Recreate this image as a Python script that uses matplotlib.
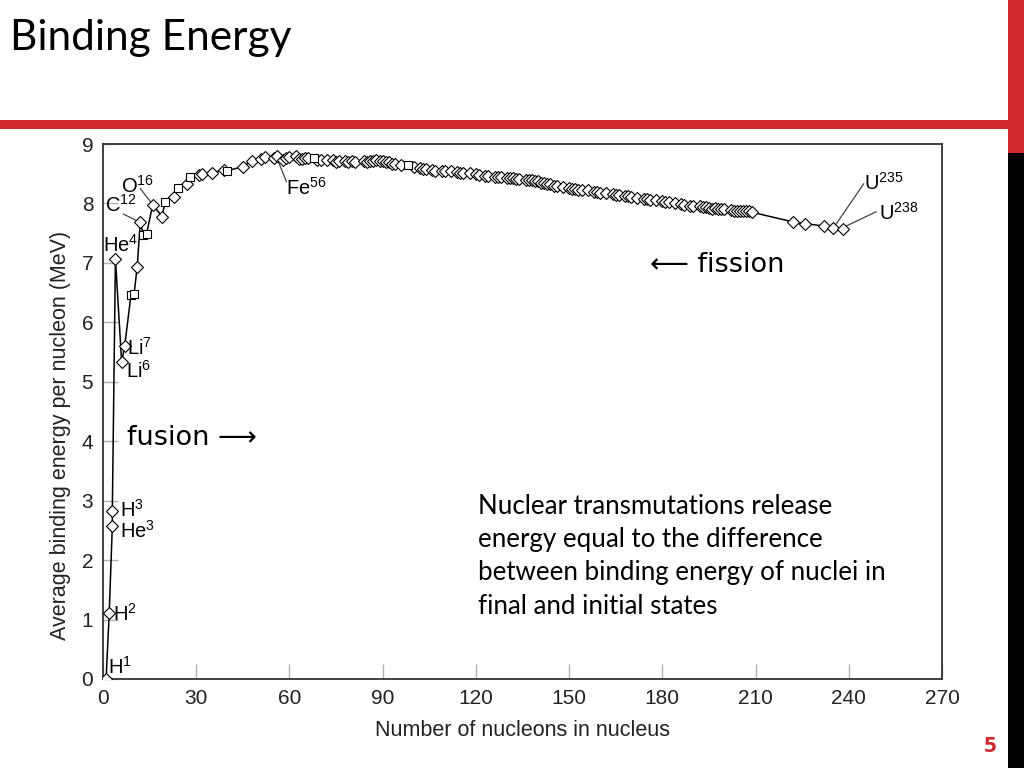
import matplotlib

matplotlib.use("Agg")
import matplotlib.pyplot as plt
from matplotlib.patches import Rectangle

# nuclides in the order the curve is drawn (mass number, MeV per nucleon)
mass_number = [
    1, 2, 3, 3, 4, 6, 7, 9, 10, 11, 12, 13, 14, 16, 19, 20, 23, 24, 27, 28,
    31, 32, 35, 39, 40, 45, 48, 51, 52, 55, 56, 58, 59, 60, 62, 63, 64, 65, 66, 68,
    69, 70, 72, 74, 75, 76, 78, 79, 80, 81, 84, 85, 86, 87, 88, 89, 90, 91, 92, 93,
    94, 96, 98, 100, 102, 103, 104, 106, 107, 109, 110, 112, 114, 115, 116, 118, 120, 121, 123, 124,
    126, 127, 128, 130, 131, 132, 133, 134, 136, 137, 138, 139, 140, 141, 142, 143, 144, 145, 146, 148,
    150, 151, 152, 153, 154, 156, 158, 159, 160, 162, 164, 165, 166, 168, 169, 170, 172, 174, 175, 176,
    178, 180, 181, 182, 184, 186, 187, 189, 190, 192, 193, 194, 195, 196, 197, 198, 199, 200, 202, 203,
    204, 205, 206, 207, 208, 209, 222, 226, 232, 235, 238,
]
binding_energy = [
    0.00, 1.11, 2.57, 2.83, 7.07, 5.33, 5.61, 6.46, 6.48, 6.93, 7.68, 7.47, 7.48, 7.98, 7.78, 8.03, 8.11, 8.26, 8.33, 8.45,
    8.48, 8.49, 8.52, 8.56, 8.55, 8.62, 8.72, 8.74, 8.78, 8.77, 8.79, 8.73, 8.77, 8.78, 8.79, 8.75, 8.74, 8.76, 8.76, 8.76,
    8.73, 8.73, 8.73, 8.73, 8.70, 8.71, 8.72, 8.69, 8.71, 8.70, 8.72, 8.70, 8.71, 8.71, 8.73, 8.71, 8.71, 8.69, 8.69, 8.66,
    8.67, 8.64, 8.64, 8.61, 8.60, 8.58, 8.58, 8.56, 8.55, 8.55, 8.55, 8.54, 8.53, 8.52, 8.52, 8.52, 8.50, 8.48, 8.47, 8.47,
    8.44, 8.45, 8.44, 8.43, 8.42, 8.43, 8.41, 8.41, 8.40, 8.39, 8.39, 8.38, 8.38, 8.35, 8.35, 8.33, 8.33, 8.30, 8.30, 8.28,
    8.26, 8.25, 8.24, 8.23, 8.23, 8.22, 8.20, 8.19, 8.18, 8.17, 8.16, 8.15, 8.14, 8.13, 8.12, 8.11, 8.10, 8.08, 8.07, 8.06,
    8.05, 8.04, 8.02, 8.02, 8.01, 7.99, 7.98, 7.96, 7.96, 7.95, 7.94, 7.94, 7.93, 7.91, 7.92, 7.91, 7.90, 7.90, 7.89, 7.88,
    7.88, 7.87, 7.88, 7.87, 7.87, 7.85, 7.69, 7.66, 7.62, 7.59, 7.57,
]
square_mass = [9, 10, 13, 14, 20, 24, 28, 40, 68, 98]

x_ticks = [0, 30, 60, 90, 120, 150, 180, 210, 240, 270]
y_ticks = [0, 1, 2, 3, 4, 5, 6, 7, 8, 9]

# (symbol, mass superscript, text x, text y, leader start, leader end)
isotope_labels = [
    ("H", "1", 1.6, 0.2, None, None),
    ("H", "2", 3.3, 1.1, None, None),
    ("H", "3", 5.6, 2.85, None, None),
    ("He", "3", 5.6, 2.5, None, None),
    ("He", "4", 0.0, 7.3, None, None),
    ("Li", "7", 7.8, 5.57, None, None),
    ("Li", "6", 7.3, 5.18, None, None),
    ("C", "12", 0.8, 7.98, (6.6, 7.82), (12, 7.68)),
    ("O", "16", 5.8, 8.3, (12.0, 8.25), (16, 7.98)),
    ("Fe", "56", 59.0, 8.26, (59.0, 8.37), (56, 8.76)),
    ("U", "235", 245.0, 8.34, (244.8, 8.33), (235.5, 7.62)),
    ("U", "238", 249.8, 7.84, (248.8, 7.86), (238, 7.59)),
]

RED = "#d0282f"
SANS = ["Liberation Sans", "DejaVu Sans"]

plt.rcParams["font.family"] = SANS
plt.rcParams["mathtext.fontset"] = "custom"
plt.rcParams["mathtext.rm"] = "Liberation Sans"
plt.rcParams["mathtext.it"] = "Liberation Sans"

fig = plt.figure(figsize=(10.24, 7.68), dpi=100)
fig.patch.set_facecolor("white")

# slide decorations
fig.add_artist(Rectangle((0, 1 - 129 / 768), 1008 / 1024, 9 / 768, transform=fig.transFigure,
                         color=RED, lw=0))
fig.add_artist(Rectangle((1008 / 1024, 1 - 153 / 768), 16 / 1024, 153 / 768, transform=fig.transFigure,
                         color=RED, lw=0))
fig.add_artist(Rectangle((1008 / 1024, 0), 16 / 1024, 1 - 153 / 768, transform=fig.transFigure,
                         color="black", lw=0))
fig.text(10 / 1024, 1 - 38 / 768, "Binding Energy", family=["Lato", "DejaVu Sans"], fontsize=30.5,
         va="center", ha="left", color="black")
fig.text(997 / 1024, 1 - 746 / 768, "5", family=["Open Sans", "DejaVu Sans"], fontsize=16,
         fontweight="bold", color=RED, ha="right", va="center")
fig.text(478 / 1024, 1 - 494 / 768,
         "Nuclear transmutations release\nenergy equal to the difference\n"
         "between binding energy of nuclei in\nfinal and initial states",
         family=["Lato", "DejaVu Sans"], fontsize=18.6, va="top", ha="left", linespacing=1.41)

ax = fig.add_axes([103 / 1024, 1 - 679 / 768, 839 / 1024, 535 / 768])
ax.set_xlim(0, 270)
ax.set_ylim(0, 9)
ax.set_xticks(x_ticks)
ax.set_yticks(y_ticks)
ax.tick_params(direction="in", length=11, width=1, color="#b0b0b0", labelsize=15, pad=7,
               labelcolor="#222222")
for sp in ax.spines.values():
    sp.set_linewidth(1.3)
    sp.set_color("#333333")

ax.plot(mass_number, binding_energy, color="black", lw=1.1, zorder=2)
is_square = [a in square_mass for a in mass_number]
ax.plot([a for a, s in zip(mass_number, is_square) if not s],
        [b for b, s in zip(binding_energy, is_square) if not s],
        ls="none", marker="D", ms=5.8, mfc="white", mec="black", mew=0.8, zorder=3)
ax.plot([a for a, s in zip(mass_number, is_square) if s],
        [b for b, s in zip(binding_energy, is_square) if s],
        ls="none", marker="s", ms=5.8, mfc="white", mec="black", mew=0.8, zorder=3)

for name, sup, tx, ty, p0, p1 in isotope_labels:
    ax.text(tx, ty, name + r"$^{" + sup + "}$", fontsize=14.5, ha="left", va="center", zorder=4)
    if p0 is not None:
        ax.plot([p0[0], p1[0]], [p0[1], p1[1]], color="#444444", lw=0.9, zorder=1)

ax.text(7.8, 4.05, "fusion \u27f6", family=["DejaVu Sans"], fontsize=19.5, ha="left", va="center")
ax.text(176, 6.97, "\u27f5 fission", family=["DejaVu Sans"], fontsize=19.5, ha="left", va="center")

ax.set_xlabel("Number of nucleons in nucleus", fontsize=15.5, labelpad=9, color="#222222")
ax.set_ylabel("Average binding energy per nucleon (MeV)", fontsize=15.5, color="#222222")
ax.yaxis.set_label_coords(-0.038, 0.455)

fig.savefig("out.png", dpi=100)
